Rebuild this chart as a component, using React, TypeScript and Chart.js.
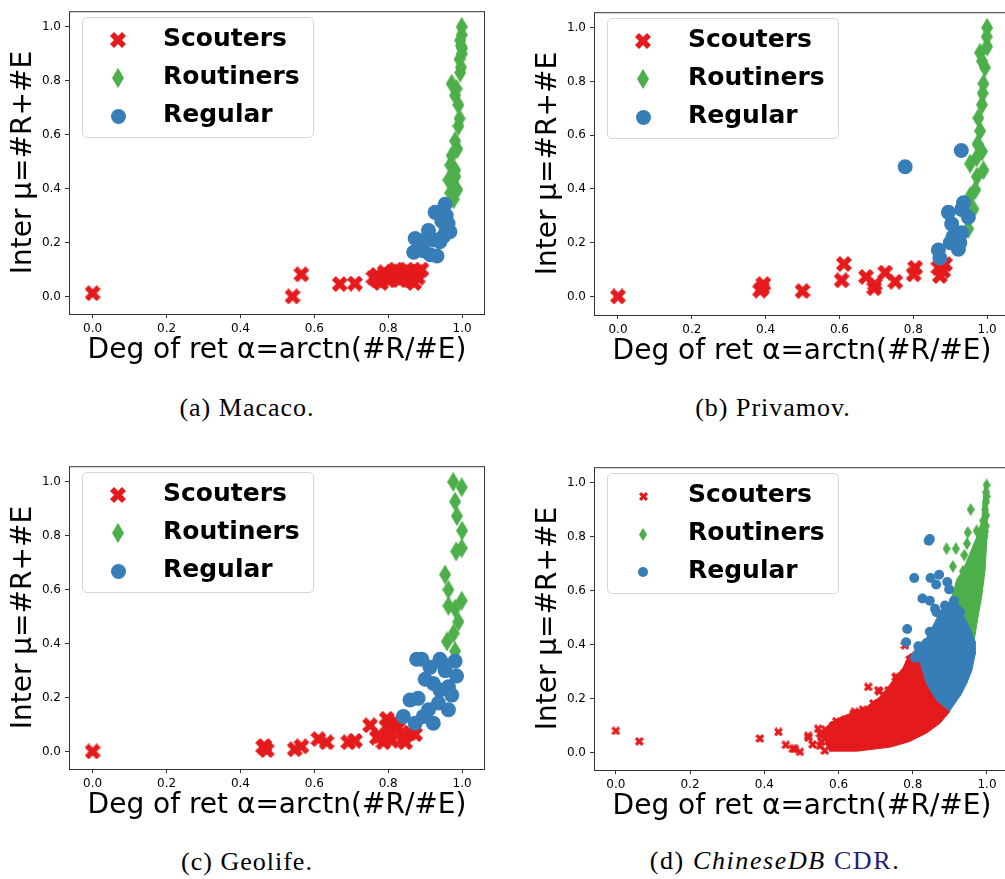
import React, { useEffect, useRef } from 'react';
import { Chart, registerables } from 'chart.js';

Chart.register(...registerables);

type Pt = [number, number];

const RED = '#e41a1c';
const GREEN = '#4daf4a';
const BLUE = '#377eb8';

const seriesNames = ['Scouters', 'Routiners', 'Regular'];
const tickValues = [0, 0.2, 0.4, 0.6, 0.8, 1.0];
const xTitle = 'Deg of ret α=arctn(#R/#E)';
const yTitle = 'Inter μ=#R+#E';

// (a) Macaco
const macacoScouters: Pt[] = [[0.0, 0.012], [0.541, 0.0], [0.565, 0.082], [0.669, 0.046], [0.71, 0.048], [0.76, 0.07], [0.77, 0.08], [0.78, 0.05], [0.79, 0.07], [0.8, 0.08], [0.8, 0.06], [0.81, 0.09], [0.82, 0.07], [0.83, 0.06], [0.83, 0.09], [0.84, 0.08], [0.85, 0.07], [0.86, 0.09], [0.86, 0.06], [0.87, 0.08], [0.88, 0.07], [0.88, 0.09], [0.89, 0.1], [0.87, 0.05], [0.85, 0.1], [0.82, 0.1], [0.79, 0.09], [0.77, 0.06]];
const macacoRoutiners: Pt[] = [[0.999, 1.0], [0.999, 0.97], [0.997, 0.93], [0.999, 0.9], [0.993, 0.88], [0.997, 0.85], [0.995, 0.83], [0.972, 0.789], [0.985, 0.77], [0.981, 0.745], [0.99, 0.71], [0.993, 0.66], [0.99, 0.632], [0.981, 0.577], [0.987, 0.547], [0.972, 0.523], [0.968, 0.487], [0.981, 0.469], [0.963, 0.432], [0.977, 0.408], [0.968, 0.384], [0.977, 0.36], [0.987, 0.396], [0.982, 0.445], [0.995, 0.95], [1.0, 0.92]];
const macacoRegular: Pt[] = [[0.873, 0.215], [0.869, 0.164], [0.909, 0.245], [0.927, 0.312], [0.954, 0.342], [0.957, 0.3], [0.957, 0.251], [0.94, 0.203], [0.914, 0.155], [0.932, 0.15], [0.895, 0.17], [0.886, 0.19], [0.923, 0.21], [0.95, 0.224], [0.962, 0.27], [0.945, 0.28], [0.905, 0.215], [0.967, 0.24]];

// (b) Privamov
const privamovScouters: Pt[] = [[0.0, 0.0], [0.385, 0.022], [0.394, 0.046], [0.39, 0.03], [0.5, 0.02], [0.606, 0.06], [0.612, 0.121], [0.672, 0.073], [0.694, 0.031], [0.696, 0.045], [0.724, 0.089], [0.751, 0.055], [0.805, 0.107], [0.801, 0.082], [0.868, 0.107], [0.872, 0.076], [0.886, 0.12], [0.881, 0.095]];
const privamovRoutiners: Pt[] = [[1.0, 1.0], [0.999, 0.967], [1.0, 0.93], [0.981, 0.907], [0.986, 0.876], [0.994, 0.852], [0.99, 0.792], [0.988, 0.756], [0.986, 0.714], [0.976, 0.664], [0.981, 0.616], [0.974, 0.567], [0.972, 0.518], [0.954, 0.494], [0.972, 0.446], [0.968, 0.397], [0.954, 0.373], [0.963, 0.325], [0.949, 0.252], [0.99, 0.47], [0.986, 0.54]];
const privamovRegular: Pt[] = [[0.778, 0.483], [0.93, 0.543], [0.868, 0.173], [0.872, 0.143], [0.895, 0.313], [0.904, 0.27], [0.9, 0.2], [0.922, 0.176], [0.926, 0.2], [0.931, 0.237], [0.936, 0.349], [0.931, 0.324], [0.949, 0.295], [0.908, 0.224]];

// (c) Geolife
const geolifeScouters: Pt[] = [[0.0, 0.0], [0.462, 0.016], [0.471, 0.005], [0.465, 0.02], [0.547, 0.008], [0.565, 0.019], [0.611, 0.046], [0.633, 0.034], [0.692, 0.034], [0.71, 0.04], [0.751, 0.097], [0.778, 0.058], [0.796, 0.094], [0.787, 0.034], [0.809, 0.04], [0.805, 0.07], [0.827, 0.088], [0.841, 0.052], [0.859, 0.07], [0.873, 0.064], [0.846, 0.034], [0.818, 0.112], [0.769, 0.051], [0.796, 0.121]];
const geolifeRoutiners: Pt[] = [[0.976, 1.0], [0.999, 0.98], [0.981, 0.927], [0.986, 0.873], [1.0, 0.819], [0.984, 0.742], [0.999, 0.754], [0.954, 0.656], [0.963, 0.6], [0.999, 0.559], [0.963, 0.54], [0.981, 0.53], [0.99, 0.481], [0.977, 0.438], [0.959, 0.408], [0.981, 0.372]];
const geolifeRegular: Pt[] = [[0.877, 0.342], [0.891, 0.342], [0.94, 0.342], [0.981, 0.335], [0.9, 0.268], [0.985, 0.28], [0.859, 0.191], [0.881, 0.197], [0.841, 0.13], [0.873, 0.105], [0.922, 0.105], [0.909, 0.155], [0.963, 0.155], [0.972, 0.209], [0.94, 0.228], [0.922, 0.252], [0.954, 0.3], [0.913, 0.312], [0.963, 0.24], [0.895, 0.13], [0.936, 0.18], [0.95, 0.324]];

// (d) ChineseDB CDR: isolated points plus the outlines of the dense clouds
const chineseScouters: Pt[] = [[0.0, 0.08], [0.063, 0.041], [0.388, 0.052], [0.438, 0.076], [0.458, 0.028], [0.477, 0.014], [0.496, 0.002], [0.519, 0.055], [0.545, 0.088], [0.554, 0.04], [0.563, 0.007], [0.586, 0.1], [0.617, 0.122], [0.644, 0.151], [0.68, 0.243], [0.71, 0.227], [0.754, 0.279], [0.779, 0.397], [0.792, 0.345], [0.707, 0.231], [0.755, 0.281], [0.518, 0.062], [0.586, 0.098], [0.613, 0.109], [0.64, 0.121], [0.482, 0.013], [0.53, 0.03], [0.55, 0.07], [0.694, 0.182], [0.735, 0.231], [0.765, 0.255], [0.725, 0.2], [0.666, 0.159], [0.64, 0.142], [0.594, 0.116], [0.564, 0.085], [0.555, 0.061], [0.55, 0.025]];
const chineseScoutersCloud: Pt[] = [[0.575, 0.005], [0.65, 0.005], [0.74, 0.02], [0.79, 0.04], [0.837, 0.072], [0.873, 0.108], [0.9, 0.152], [0.864, 0.194], [0.837, 0.255], [0.824, 0.315], [0.815, 0.351], [0.8, 0.37], [0.79, 0.362], [0.774, 0.315], [0.747, 0.267], [0.712, 0.207], [0.676, 0.17], [0.613, 0.134], [0.577, 0.11], [0.56, 0.07], [0.565, 0.03]];
const chineseRoutiners: Pt[] = [[0.999, 0.992], [0.956, 0.901], [0.891, 0.756], [0.916, 0.756], [0.948, 0.816], [0.972, 0.822], [0.963, 0.732], [0.939, 0.732], [0.908, 0.69], [0.935, 0.672], [0.961, 0.684], [0.946, 0.775], [0.99, 0.86], [0.999, 0.95], [0.995, 0.9], [0.998, 0.965], [0.998, 0.93], [0.998, 0.88], [0.997, 0.84], [0.995, 0.82], [0.993, 0.8]];
const chineseRoutinersCloud: Pt[] = [[0.9, 0.557], [0.914, 0.617], [0.918, 0.641], [0.936, 0.678], [0.954, 0.738], [0.972, 0.798], [0.986, 0.859], [0.99, 0.943], [0.995, 1.0], [1.0, 1.0], [1.0, 0.8], [0.995, 0.678], [0.986, 0.581], [0.972, 0.472], [0.965, 0.41], [0.93, 0.52]];
const chineseRegular: Pt[] = [[0.846, 0.792], [0.843, 0.785], [0.804, 0.647], [0.848, 0.647], [0.871, 0.659], [0.863, 0.623], [0.893, 0.632], [0.898, 0.605], [0.826, 0.571], [0.846, 0.563], [0.86, 0.533], [0.887, 0.545], [0.911, 0.563], [0.918, 0.533], [0.785, 0.458], [0.782, 0.409], [0.815, 0.394], [0.837, 0.406], [0.846, 0.448], [0.806, 0.351], [0.864, 0.52], [0.927, 0.52]];
const chineseRegularCloud: Pt[] = [[0.9, 0.152], [0.864, 0.194], [0.837, 0.255], [0.824, 0.315], [0.815, 0.351], [0.801, 0.37], [0.815, 0.4], [0.837, 0.424], [0.851, 0.46], [0.864, 0.496], [0.878, 0.533], [0.9, 0.557], [0.923, 0.545], [0.936, 0.508], [0.954, 0.46], [0.968, 0.412], [0.968, 0.363], [0.959, 0.303], [0.945, 0.255], [0.927, 0.207]];

interface MarkerSize { x: number; dw: number; dh: number; r: number; }
const LARGE: MarkerSize = { x: 16, dw: 12, dh: 20, r: 7.5 };
const SMALL: MarkerSize = { x: 9, dw: 8, dh: 13, r: 5 };

interface PanelSpec {
  left: number;
  top: number;
  xRange: [number, number];
  yRange: [number, number];
  scouters: Pt[];
  routiners: Pt[];
  regular: Pt[];
  scoutersCloud?: Pt[];
  routinersCloud?: Pt[];
  regularCloud?: Pt[];
  small: boolean;
}

const panels: PanelSpec[] = [
  { left: 0, top: 0, xRange: [-0.064, 1.062], yRange: [-0.065, 1.058], scouters: macacoScouters, routiners: macacoRoutiners, regular: macacoRegular, small: false },
  { left: 525, top: 1, xRange: [-0.065, 1.062], yRange: [-0.069, 1.058], scouters: privamovScouters, routiners: privamovRoutiners, regular: privamovRegular, small: false },
  { left: 0, top: 455, xRange: [-0.064, 1.062], yRange: [-0.065, 1.058], scouters: geolifeScouters, routiners: geolifeRoutiners, regular: geolifeRegular, small: false },
  { left: 525, top: 456, xRange: [-0.059, 1.062], yRange: [-0.065, 1.058], scouters: chineseScouters, routiners: chineseRoutiners, regular: chineseRegular, scoutersCloud: chineseScoutersCloud, routinersCloud: chineseRoutinersCloud, regularCloud: chineseRegularCloud, small: true },
];

const X_PATH: Pt[] = [[-1, -3], [1, -3], [1, -1], [3, -1], [3, 1], [1, 1], [1, 3], [-1, 3], [-1, 1], [-3, 1], [-3, -1], [-1, -1]];

function makeXMarker(size: number, color: string): HTMLCanvasElement {
  const c = document.createElement('canvas');
  c.width = size;
  c.height = size;
  const g = c.getContext('2d')!;
  const u = size / 0.943;
  g.translate(size / 2, size / 2);
  g.rotate(Math.PI / 4);
  g.beginPath();
  X_PATH.forEach(([px, py], i) => {
    const X = (px / 6) * u;
    const Y = (py / 6) * u;
    if (i === 0) g.moveTo(X, Y);
    else g.lineTo(X, Y);
  });
  g.closePath();
  g.fillStyle = color;
  g.fill();
  return c;
}

function makeDiamond(w: number, h: number, color: string): HTMLCanvasElement {
  const c = document.createElement('canvas');
  c.width = w;
  c.height = h;
  const g = c.getContext('2d')!;
  g.beginPath();
  g.moveTo(w / 2, 0);
  g.lineTo(w, h / 2);
  g.lineTo(w / 2, h);
  g.lineTo(0, h / 2);
  g.closePath();
  g.fillStyle = color;
  g.fill();
  return c;
}

const framePlugin = {
  id: 'frame',
  afterDatasetsDraw(chart: any) {
    const { ctx, chartArea: a } = chart;
    ctx.save();
    ctx.strokeStyle = '#333';
    ctx.lineWidth = 1;
    ctx.strokeRect(a.left + 0.5, a.top + 0.5, a.right - a.left - 1, a.bottom - a.top);
    ctx.restore();
  },
};

const toXY = (pts: Pt[]) => pts.map(([x, y]) => ({ x, y }));

const TICK_FONT = { family: "'DejaVu Sans'", size: 12 };
const TITLE_FONT = { family: "'DejaVu Sans'", size: 28 };

function makeScale(range: [number, number], isX: boolean) {
  return {
    type: 'linear',
    min: range[0],
    max: range[1],
    afterBuildTicks: (s: any) => {
      s.ticks = tickValues.map((v) => ({ value: v }));
    },
    afterFit: (s: any) => {
      if (isX) s.height = 56;
      else s.width = 69;
    },
    ticks: {
      callback: (v: any) => Number(v).toFixed(1),
      font: TICK_FONT,
      color: '#000',
      padding: 4,
      maxRotation: 0,
      autoSkip: false,
    },
    grid: { display: true, drawOnChartArea: false, drawTicks: true, tickLength: 4, color: '#333', lineWidth: 1 },
    border: { display: false },
    title: {
      display: true,
      text: isX ? xTitle : yTitle,
      font: TITLE_FONT,
      color: '#000',
      padding: isX ? { top: 0, bottom: 2 } : { top: 6.5, bottom: 0 },
    },
  };
}

function Mark({ kind, m }: { kind: number; m: MarkerSize }) {
  if (kind === 0) {
    const e = 2.83;
    return (
      <svg width={m.x} height={m.x} viewBox={`${-e} ${-e} ${2 * e} ${2 * e}`} style={{ display: 'block' }}>
        <polygon transform="rotate(45)" points={X_PATH.map(([a, b]) => `${a},${b}`).join(' ')} fill={RED} />
      </svg>
    );
  }
  if (kind === 1) {
    return (
      <svg width={m.dw} height={m.dh} viewBox={`0 0 ${m.dw} ${m.dh}`} style={{ display: 'block' }}>
        <polygon points={`${m.dw / 2},0 ${m.dw},${m.dh / 2} ${m.dw / 2},${m.dh} 0,${m.dh / 2}`} fill={GREEN} />
      </svg>
    );
  }
  return (
    <svg width={m.r * 2} height={m.r * 2} viewBox={`0 0 ${m.r * 2} ${m.r * 2}`} style={{ display: 'block' }}>
      <circle cx={m.r} cy={m.r} r={m.r} fill={BLUE} />
    </svg>
  );
}

function Legend({ small }: { small: boolean }) {
  const m = small ? SMALL : LARGE;
  const sizes: Pt[] = [[m.x, m.x], [m.dw, m.dh], [m.r * 2, m.r * 2]];
  return (
    <div
      style={{
        position: 'absolute',
        left: 82,
        top: 17,
        width: 232,
        height: 121,
        boxSizing: 'border-box',
        border: '1px solid #d6d6d6',
        borderRadius: 5,
        background: 'rgba(255,255,255,0.8)',
      }}
    >
      {seriesNames.map((name, i) => (
        <React.Fragment key={name}>
          <div style={{ position: 'absolute', left: 35 - sizes[i][0] / 2, top: 22 + 38 * i - sizes[i][1] / 2, lineHeight: 0 }}>
            <Mark kind={i} m={m} />
          </div>
          <div
            style={{
              position: 'absolute',
              left: 80,
              top: 5.35 + 38 * i,
              fontFamily: "'DejaVu Sans'",
              fontWeight: 'bold',
              fontSize: 25,
              lineHeight: '30px',
              whiteSpace: 'nowrap',
              color: '#000',
            }}
          >
            {name}
          </div>
        </React.Fragment>
      ))}
    </div>
  );
}

function Panel({ spec }: { spec: PanelSpec }) {
  const ref = useRef<HTMLCanvasElement>(null);
  useEffect(() => {
    const m = spec.small ? SMALL : LARGE;
    const xImg = makeXMarker(m.x, RED);
    const dImg = makeDiamond(m.dw, m.dh, GREEN);
    const cloud = (pts: Pt[], color: string, order: number) => ({
      type: 'line',
      data: toXY(pts),
      borderColor: color,
      backgroundColor: color,
      borderWidth: 1,
      fill: 'shape',
      pointRadius: 0,
      tension: 0,
      order,
    });
    const datasets: any[] = [];
    if (spec.regularCloud) datasets.push(cloud(spec.regularCloud, BLUE, 0));
    datasets.push({ type: 'scatter', label: seriesNames[2], data: toXY(spec.regular), pointStyle: 'circle', pointRadius: m.r, backgroundColor: BLUE, borderWidth: 0, order: 0 });
    if (spec.routinersCloud) datasets.push(cloud(spec.routinersCloud, GREEN, 1));
    datasets.push({ type: 'scatter', label: seriesNames[1], data: toXY(spec.routiners), pointStyle: dImg, pointRadius: 6, backgroundColor: GREEN, borderWidth: 0, order: 1 });
    if (spec.scoutersCloud) datasets.push(cloud(spec.scoutersCloud, RED, 2));
    datasets.push({ type: 'scatter', label: seriesNames[0], data: toXY(spec.scouters), pointStyle: xImg, pointRadius: 6, backgroundColor: RED, borderWidth: 0, order: 2 });

    const chart = new Chart(ref.current!, {
      type: 'scatter',
      data: { datasets },
      options: {
        animation: false,
        responsive: false,
        devicePixelRatio: 1,
        events: [],
        layout: { padding: { left: 0, top: 4, right: 15, bottom: 0 } },
        plugins: { legend: { display: false }, tooltip: { enabled: false } },
        scales: {
          x: makeScale(spec.xRange, true),
          y: makeScale(spec.yRange, false),
        },
      } as any,
      plugins: [framePlugin],
    } as any);
    return () => chart.destroy();
  }, [spec]);
  return (
    <div style={{ position: 'absolute', left: spec.left, top: spec.top, width: 500, height: 370 }}>
      <canvas ref={ref} width={500} height={370} style={{ display: 'block', width: 500, height: 370 }} />
      <Legend small={spec.small} />
    </div>
  );
}

const captionBase: React.CSSProperties = {
  position: 'absolute',
  width: 400,
  textAlign: 'center',
  fontFamily: "'Liberation Serif'",
  fontSize: 26,
  lineHeight: '30px',
  letterSpacing: '1px',
  color: '#000',
  whiteSpace: 'nowrap',
};

export default function App() {
  return (
    <div style={{ position: 'absolute', left: 0, top: 0, width: 1005, height: 879, overflow: 'hidden', background: '#fff' }}>
      {panels.map((p, i) => (
        <Panel key={i} spec={p} />
      ))}
      <div style={{ ...captionBase, left: 247 - 200, top: 393 }}>(a) Macaco.</div>
      <div style={{ ...captionBase, left: 773 - 200, top: 393 }}>(b) Privamov.</div>
      <div style={{ ...captionBase, left: 247 - 200, top: 847 }}>(c) Geolife.</div>
      <div style={{ ...captionBase, left: 775 - 200, top: 846, letterSpacing: '1.6px' }}>
        (d) <i>ChineseDB</i> <span style={{ color: '#1f1f7a' }}>CDR</span>.
      </div>
    </div>
  );
}
